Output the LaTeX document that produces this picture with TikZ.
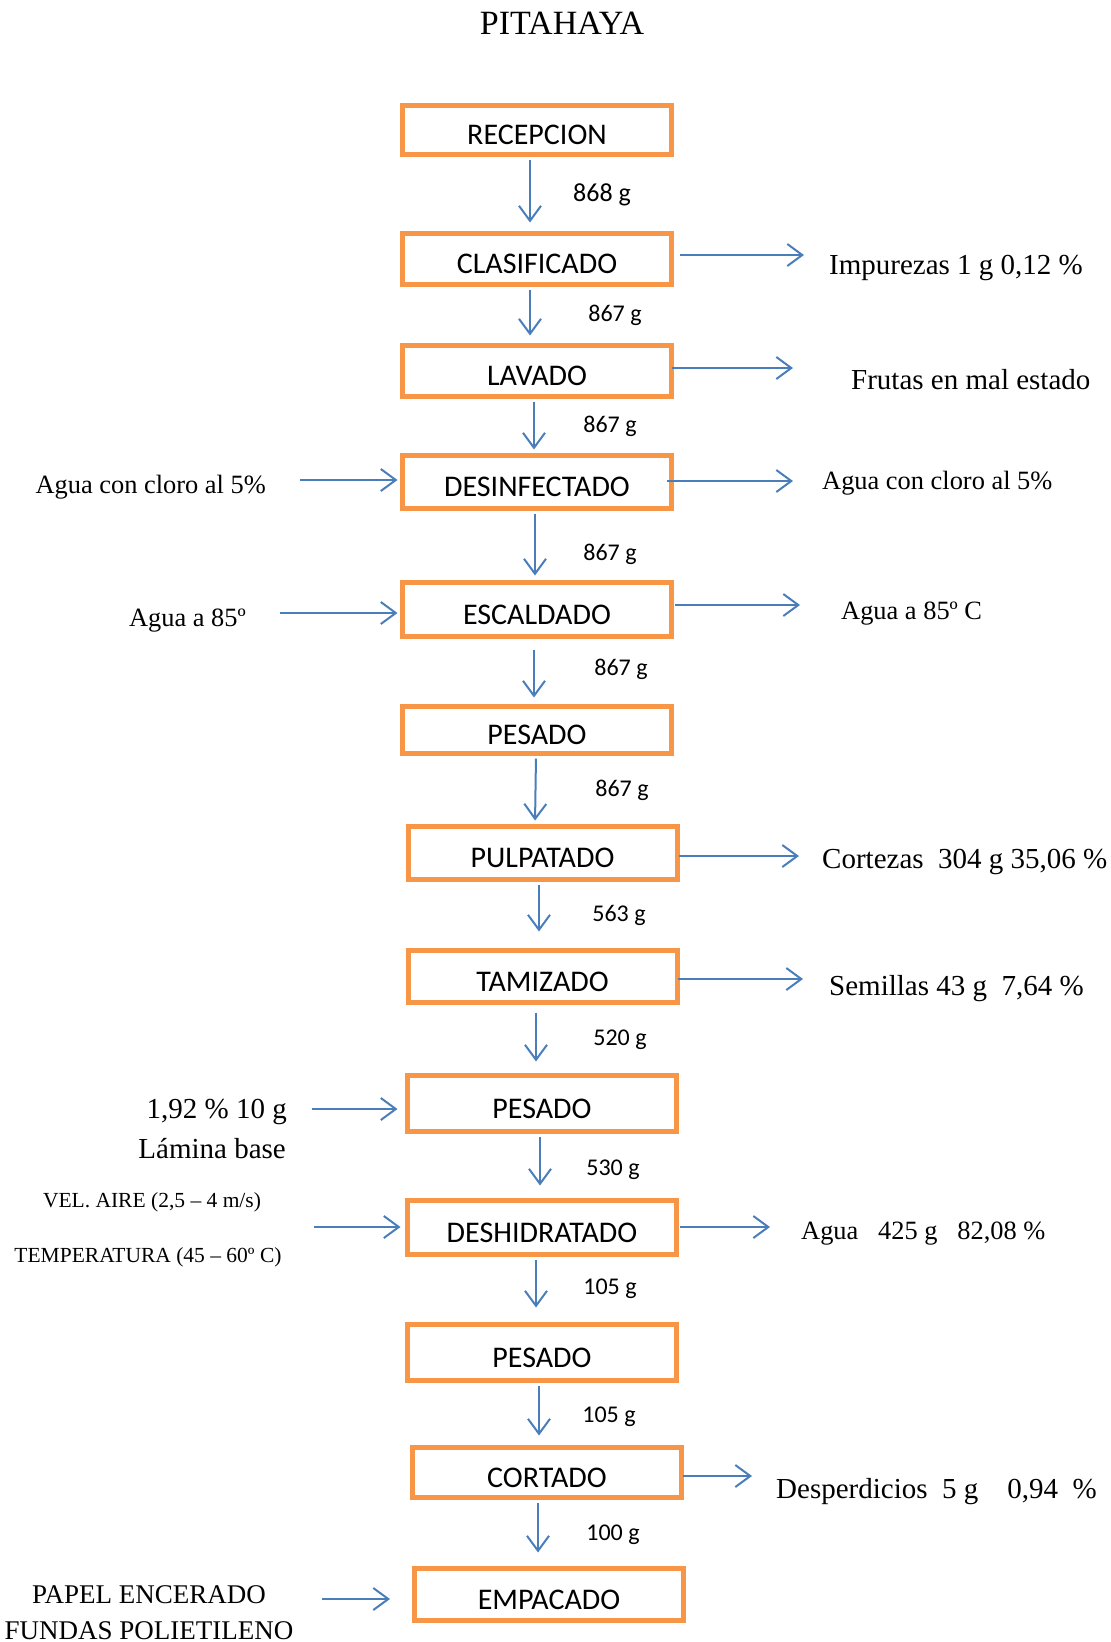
\documentclass[tikz,border=0pt]{standalone}
\usepackage{fontspec}
\setmainfont{Liberation Serif}
\newfontfamily\calfont{Carlito}
\usetikzlibrary{arrows.meta}
\definecolor{boxorange}{HTML}{F79646}
\definecolor{arrblue}{HTML}{4A7EBB}
\tikzset{
  stepbox/.style={draw=boxorange, line width=5pt, fill=white, minimum width=269pt,
    inner sep=0pt, text height=29.5pt, text depth=0pt,
    font=\calfont\fontsize{30}{34}\selectfont},
  arr/.style={draw=arrblue, line width=2pt, -{Straight Barb[length=15pt,width=22pt,line width=2pt]}},
  qty/.style={font=\calfont\fontsize{24}{28}\selectfont, inner sep=0pt},
  side/.style={font=\fontsize{29}{34}\selectfont, inner sep=0pt},
  sidesm/.style={font=\fontsize{26.4}{31}\selectfont, inner sep=0pt},
  small/.style={font=\fontsize{21.5}{25}\selectfont, inner sep=0pt},
  mid/.style={font=\fontsize{27}{31}\selectfont, inner sep=0pt},
}
\begin{document}
\begin{tikzpicture}[x=1pt,y=-1pt]
\useasboundingbox (0,0) rectangle (1111,1642);
% title
\node[side, font=\fontsize{34}{38}\selectfont] (title) at (562,23) {PITAHAYA};

% boxes
\node[stepbox, minimum height=49pt] (rec)  at (537,130)   {RECEPCION};
\node[stepbox, minimum height=51pt] (cla)  at (537,259)   {CLASIFICADO};
\node[stepbox, minimum height=51pt] (lav)  at (537,371)   {LAVADO};
\node[stepbox, minimum height=53pt] (des)  at (537,482)   {DESINFECTADO};
\node[stepbox, minimum height=54pt] (esc)  at (537,609.5) {ESCALDADO};
\node[stepbox, minimum height=47pt] (pes1) at (537,730)   {PESADO};
\node[stepbox, minimum height=53pt] (pul)  at (542.5,853) {PULPATADO};
\node[stepbox, minimum height=52pt] (tam)  at (542.5,976.5) {TAMIZADO};
\node[stepbox, minimum height=56pt] (pes2) at (542,1103.5) {PESADO};
\node[stepbox, minimum height=54pt] (desh) at (542,1227.5) {DESHIDRATADO};
\node[stepbox, minimum height=56pt] (pes3) at (542,1352.5) {PESADO};
\node[stepbox, minimum height=50pt] (cor)  at (547,1472.5) {CORTADO};
\node[stepbox, minimum height=52pt] (emp)  at (549,1594.5) {EMPACADO};

% vertical arrows
\draw[arr, shorten <=2.5pt, shorten >=8.5pt]  (rec.south -| 530,0)  -- (cla.north -| 530,0);
\draw[arr, shorten <=2.5pt, shorten >=7.5pt]  (cla.south -| 530,0)  -- (lav.north -| 530,0);
\draw[arr, shorten <=2.5pt, shorten >=3.5pt]  (lav.south -| 534,0)  -- (des.north -| 534,0);
\draw[arr, shorten <=2.5pt, shorten >=4.5pt]  (des.south -| 535,0)  -- (esc.north -| 535,0);
\draw[arr, shorten <=10.5pt, shorten >=6.5pt] (esc.south -| 534,0)  -- (pes1.north -| 534,0);
\draw[arr, shorten <=2.5pt, shorten >=3.5pt]  (pes1.south -| 536,0) -- (pul.north -| 535,0);
\draw[arr, shorten <=2.5pt, shorten >=16.5pt] (pul.south -| 539,0)  -- (tam.north -| 539,0);
\draw[arr, shorten <=7.5pt, shorten >=11.5pt] (tam.south -| 536,0)  -- (pes2.north -| 536,0);
\draw[arr, shorten <=2.5pt, shorten >=12.5pt] (pes2.south -| 540,0) -- (desh.north -| 540,0);
\draw[arr, shorten <=2.5pt, shorten >=14.5pt] (desh.south -| 536,0) -- (pes3.north -| 536,0);
\draw[arr, shorten <=2.5pt, shorten >=9.5pt]  (pes3.south -| 539,0) -- (cor.north -| 539,0);
\draw[arr, shorten <=2.5pt, shorten >=13.5pt] (cor.south -| 538,0)  -- (emp.north -| 538,0);

% quantities
\node[qty, font=\calfont\fontsize{26}{30}\selectfont] (q1) at (602,195) {868 g};
\node[qty] (q2)  at (615,315)  {867 g};
\node[qty] (q3)  at (610,426)  {867 g};
\node[qty] (q4)  at (610,554)  {867 g};
\node[qty] (q5)  at (621,669)  {867 g};
\node[qty] (q6)  at (622,790)  {867 g};
\node[qty] (q7)  at (619,915)  {563 g};
\node[qty] (q8)  at (620,1040) {520 g};
\node[qty] (q9)  at (613,1170) {530 g};
\node[qty] (q10) at (610,1289) {105 g};
\node[qty] (q11) at (609,1417) {105 g};
\node[qty] (q12) at (613,1535) {100 g};

% right outputs
\coordinate (o1) at (804,255);
\coordinate (o2) at (793,368);
\coordinate (o3) at (793,481);
\coordinate (o4) at (800,605);
\coordinate (o5) at (799,856);
\coordinate (o6) at (803,979);
\coordinate (o7) at (770,1227);
\coordinate (o8) at (752,1476);
\draw[arr, shorten <=5.5pt] (o1 -| cla.east)  -- (o1);
\draw[arr, shorten <=-2pt]  (o2 -| lav.east)  -- (o2);
\draw[arr, shorten <=-7pt]  (o3 -| des.east)  -- (o3);
\draw[arr, shorten <=0.5pt] (o4 -| esc.east)  -- (o4);
\draw[arr, shorten <=-1pt]  (o5 -| pul.east)  -- (o5);
\draw[arr, shorten <=-2pt]  (o6 -| tam.east)  -- (o6);
\draw[arr, shorten <=0.5pt] (o7 -| desh.east) -- (o7);
\draw[arr, shorten <=-1pt]  (o8 -| cor.east)  -- (o8);

\node[side, anchor=west] (r1) at (829,268)  {Impurezas 1 g 0,12 \%};
\node[side, anchor=west] (r2) at (851,380)  {Frutas en mal estado};
\node[sidesm, anchor=west] (r3) at (822,483)  {Agua con cloro al 5\%};
\node[sidesm, anchor=west] (r4) at (841,614)  {Agua a 85º C};
\node[side, anchor=west] (r5) at (822,862)  {Cortezas\ \ 304 g 35,06 \%};
\node[side, anchor=west] (r6) at (829,989)  {Semillas 43 g\ \ 7,64 \%};
\node[sidesm, anchor=west] (r7) at (801,1234) {Agua\ \ \ 425 g\ \ \ 82,08 \%};
\node[side, anchor=west] (r8) at (776,1492) {Desperdicios\ \ 5 g\ \ \ \ 0,94\ \ \%};

% left inputs
\coordinate (i1) at (300,480);
\coordinate (i2) at (280,613);
\coordinate (i3) at (312,1109);
\coordinate (i4) at (314,1227);
\coordinate (i5) at (322,1599);
\draw[arr] (i1) -- ([xshift=-2.5pt]i1 -| des.west);
\draw[arr] (i2) -- ([xshift=-2.5pt]i2 -| esc.west);
\draw[arr] (i3) -- ([xshift=-7.5pt]i3 -| pes2.west);
\draw[arr] (i4) -- ([xshift=-4.5pt]i4 -| desh.west);
\draw[arr] (i5) -- ([xshift=-22pt]i5 -| emp.west);

\node[sidesm, anchor=east] (l1) at (266,487)  {Agua con cloro al 5\%};
\node[sidesm, anchor=east] (l2) at (246,621)  {Agua a 85º};
\node[side, anchor=east] (l3) at (287,1112) {1,92 \%\ 10 g};
\node[side, anchor=east] (l4) at (286,1149) {Lámina base};
\node[small] (l5) at (152,1202) {VEL. AIRE (2,5 – 4 m/s)};
\node[small] (l6) at (148,1257) {TEMPERATURA (45 – 60º C)};
\node[mid] (l7) at (149,1595) {PAPEL ENCERADO};
\node[mid] (l8) at (149,1631) {FUNDAS POLIETILENO};
\end{tikzpicture}
\end{document}
